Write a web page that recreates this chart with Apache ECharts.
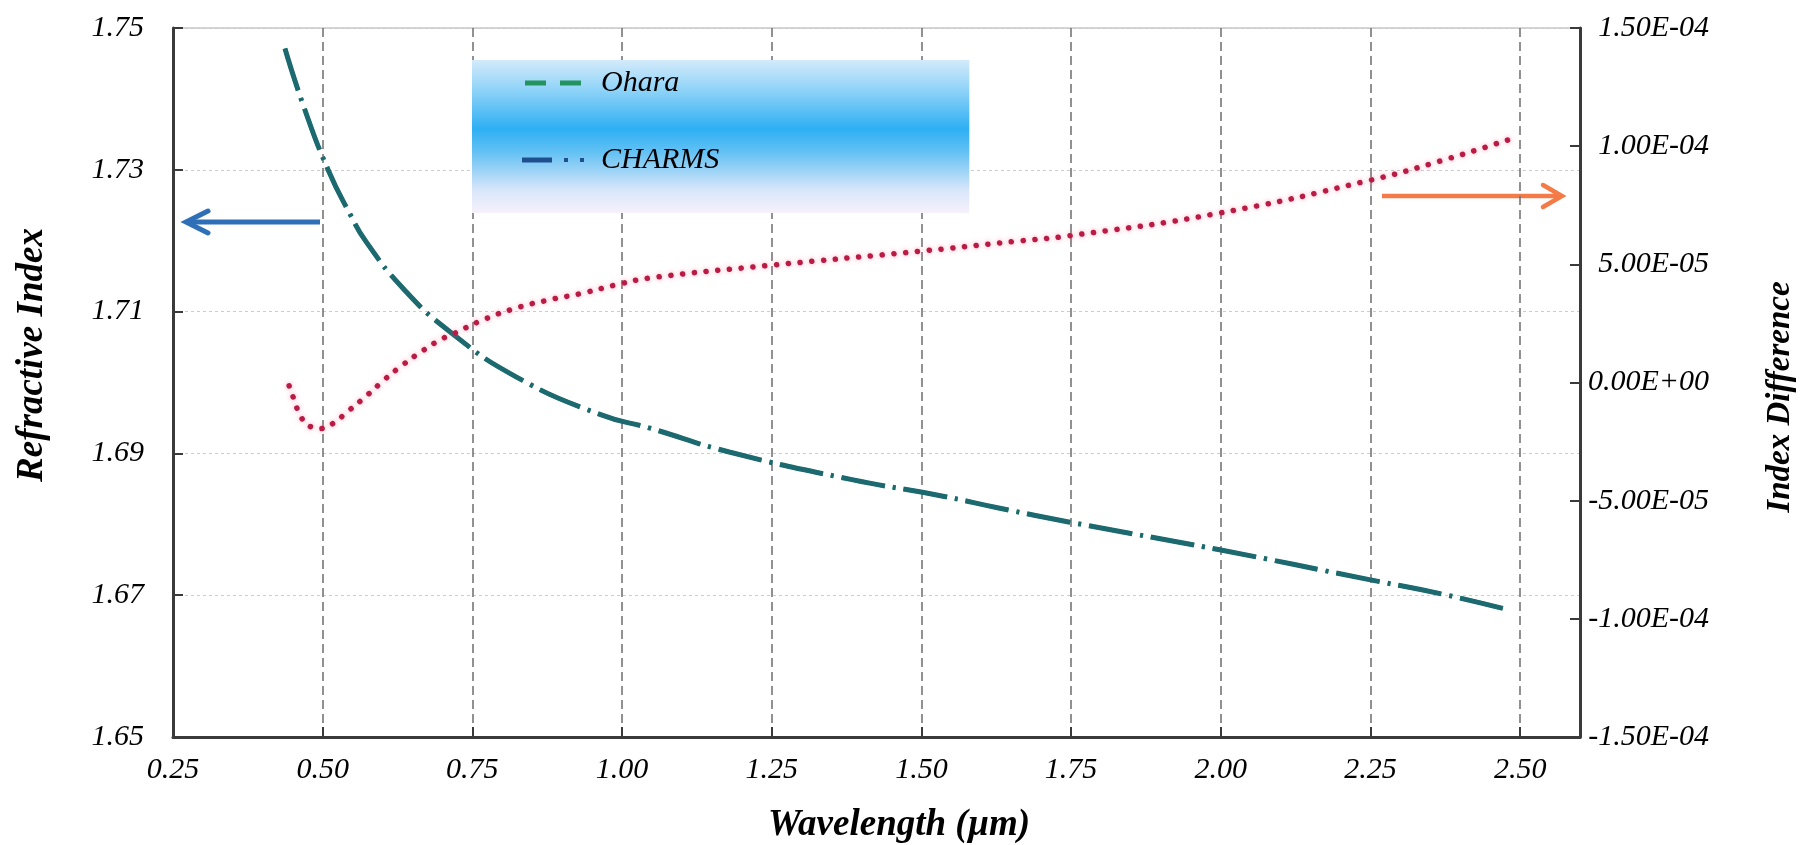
<!DOCTYPE html>
<html>
<head>
<meta charset="utf-8">
<script src="https://cdn.jsdelivr.net/npm/echarts@6/dist/echarts.min.js"></script>
<style>
html, body { margin: 0; background: #fff; }
#chart { width: 1807px; height: 845px; }
</style>
</head>
<body>
<div id="chart"></div>
<script>
// wavelength (um) and refractive index
var waveN   = [0.437, 0.468, 0.509, 0.546, 0.573, 0.634, 0.712, 0.823, 0.963, 1.045,
               1.179, 1.384, 1.534, 1.629, 1.748, 1.998, 2.248, 2.373, 2.482];
var nOhara  = [1.7471, 1.7390, 1.7300, 1.7237, 1.7198, 1.7133, 1.7072, 1.7008, 1.6955, 1.6936,
               1.6902, 1.6863, 1.6840, 1.6823, 1.6803, 1.6764, 1.6722, 1.6701, 1.6679];
var nCharms = [1.7471, 1.7390, 1.7300, 1.7237, 1.7198, 1.7133, 1.7072, 1.7008, 1.6955, 1.6936,
               1.6902, 1.6863, 1.6840, 1.6823, 1.6803, 1.6764, 1.6722, 1.6701, 1.6679];

// index difference (right axis)
var waveD     = [0.444, 0.451, 0.465, 0.480, 0.498, 0.515, 0.545, 0.576, 0.604, 0.634,
                 0.665, 0.698, 0.715, 0.768, 0.823, 0.879, 0.934, 0.990, 1.046, 1.240,
                 1.496, 1.657, 1.748, 1.998, 2.248, 2.373, 2.490];
var indexDiff = [-1.4e-6, -6.4e-6, -1.51e-5, -1.87e-5, -1.95e-5, -1.77e-5, -1.16e-5, -5.0e-6, 1.4e-6, 7.5e-6,
                 1.31e-5, 1.83e-5, 2.02e-5, 2.65e-5, 3.15e-5, 3.50e-5, 3.78e-5, 4.13e-5, 4.42e-5, 4.94e-5,
                 5.55e-5, 5.97e-5, 6.21e-5, 7.17e-5, 8.55e-5, 9.42e-5, 1.035e-4];

var serif = '"Liberation Serif", "DejaVu Serif", serif';
var labelStyle = { fontFamily: serif, fontStyle: 'italic', fontSize: 30, color: '#000' };

function pairs(xs, ys) {
    var out = [];
    for (var i = 0; i < xs.length; i++) out.push([xs[i], ys[i]]);
    return out;
}

function sci(v) {
    if (Math.abs(v) < 1e-12) v = 0;
    return v.toExponential(2).toUpperCase().replace(/E([+-])(\d)$/, function (m, sg, d) {
        return 'E' + sg + '0' + d;
    });
}

function title(text, x, y, size, rot) {
    return { type: 'text', x: x, y: y, rotation: rot || 0,
             style: { text: text, fontFamily: serif, fontStyle: 'italic', fontWeight: 'bold',
                      fontSize: size, fill: '#000', align: 'center', verticalAlign: 'middle' } };
}

// both index curves share one dash-dot pattern so the gaps stay white
var dashDot = [44, 8, 3, 8];

var chart = echarts.init(document.getElementById('chart'));

var option = {
    animation: false,
    backgroundColor: '#fff',
    grid: {
        left: 173, top: 28, right: 227, bottom: 108,
        show: true, borderColor: '#aaaaaa', borderWidth: 1
    },
    legend: {
        orient: 'vertical',
        left: 472, top: 60,
        padding: [8, 250, 38, 50],
        itemGap: 47,
        itemWidth: 62,
        itemHeight: 5,
        selectedMode: false,
        backgroundColor: new echarts.graphic.LinearGradient(0, 0, 0, 1, [
            { offset: 0, color: '#d3ebfb' },
            { offset: 0.22, color: '#86d0f7' },
            { offset: 0.45, color: '#2eaff3' },
            { offset: 0.6, color: '#62c1f3' },
            { offset: 0.85, color: '#d8e6fa' },
            { offset: 1, color: '#f7f1fb' }
        ]),
        textStyle: { fontFamily: serif, fontStyle: 'italic', fontSize: 30, color: '#000',
                     lineHeight: 30, padding: [0, 0, 0, 12] },
        data: [
            { name: 'Ohara', icon: 'path://M0,0h21v5h-21zM35,0h21v5h-21z',
              itemStyle: { color: '#23935f' } },
            { name: 'CHARMS', icon: 'path://M0,0h30v5h-30zM42,0.5h4v4h-4zM58,0.5h4v4h-4z',
              itemStyle: { color: '#1f4f8f' } }
        ]
    },
    xAxis: {
        type: 'value',
        min: 0.25, max: 2.6, interval: 0.25,
        axisLine: { show: true, onZero: false, lineStyle: { color: '#3a3a3a', width: 3 } },
        axisTick: { show: true, inside: true, length: 10, lineStyle: { color: '#3a3a3a', width: 2 } },
        axisLabel: Object.assign({}, labelStyle, {
            margin: 18,
            formatter: function (v) { return v > 2.55 ? '' : v.toFixed(2); }
        }),
        splitLine: { show: true, lineStyle: { color: '#6e6e6e', type: [9, 5], width: 1.5 } }
    },
    yAxis: [{
        type: 'value',
        position: 'left',
        min: 1.65, max: 1.75, interval: 0.02,
        axisLine: { show: true, lineStyle: { color: '#3a3a3a', width: 3 } },
        axisTick: { show: true, inside: true, length: 10, lineStyle: { color: '#3a3a3a', width: 2 } },
        axisLabel: Object.assign({}, labelStyle, {
            margin: 29,
            formatter: function (v) { return v.toFixed(2); }
        }),
        splitLine: { show: true, lineStyle: { color: '#cccccc', type: [3, 3], width: 1 } }
    }, {
        type: 'value',
        position: 'right',
        min: -1.5e-4, max: 1.5e-4, interval: 5e-5,
        axisLine: { show: true, lineStyle: { color: '#3a3a3a', width: 3 } },
        axisTick: { show: true, inside: true, length: 10, lineStyle: { color: '#3a3a3a', width: 2 } },
        axisLabel: Object.assign({}, labelStyle, {
            align: 'right',
            margin: 129,
            formatter: sci
        }),
        splitLine: { show: false }
    }],
    series: [{
        name: 'Ohara',
        type: 'line',
        yAxisIndex: 0,
        data: pairs(waveN, nOhara),
        symbol: 'none',
        smooth: true,
        silent: true,
        itemStyle: { color: '#23935f' },
        lineStyle: { color: '#23935f', width: 4, type: dashDot },
        z: 2
    }, {
        name: 'CHARMS',
        type: 'line',
        yAxisIndex: 0,
        data: pairs(waveN, nCharms),
        symbol: 'none',
        smooth: true,
        silent: true,
        itemStyle: { color: '#1c6a70' },
        lineStyle: { color: '#1c6a70', width: 5, type: dashDot },
        z: 3
    }, {
        name: 'Index Difference',
        type: 'line',
        yAxisIndex: 1,
        data: pairs(waveD, indexDiff),
        symbol: 'none',
        smooth: true,
        silent: true,
        itemStyle: { color: '#b81c44' },
        lineStyle: { color: '#b81c44', width: 5.5, type: [0.1, 11.7], cap: 'round',
                     shadowColor: 'rgba(255,95,135,0.6)', shadowBlur: 5 },
        z: 4
    }],
    graphic: [
        // axis titles
        title('Refractive Index', 32, 355, 37, Math.PI / 2),
        title('Index Difference', 1780, 397, 33, Math.PI / 2),
        title('Wavelength (µm)', 899, 825, 37),
        // blue arrow -> left axis
        { type: 'polyline', shape: { points: [[320, 222], [188, 222]] },
          style: { stroke: '#2e6fb7', lineWidth: 5, fill: null } },
        { type: 'polyline', shape: { points: [[208, 211], [186, 222], [208, 233]] },
          style: { stroke: '#2e6fb7', lineWidth: 5, fill: null, lineCap: 'round' } },
        // orange arrow -> right axis
        { type: 'polyline', shape: { points: [[1382, 196], [1560, 196]] },
          style: { stroke: '#f47a48', lineWidth: 4.5, fill: null } },
        { type: 'polyline', shape: { points: [[1543, 185], [1562, 196], [1543, 207]] },
          style: { stroke: '#f47a48', lineWidth: 4.5, fill: null, lineCap: 'round' } }
    ]
};

chart.setOption(option);
</script>
</body>
</html>
